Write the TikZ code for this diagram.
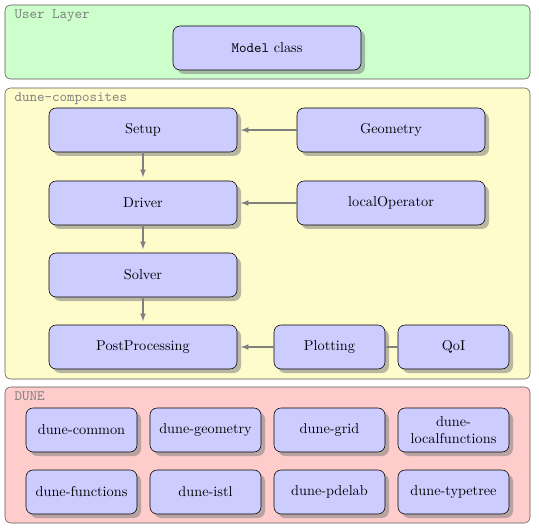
\documentclass[tikz,border=0pt]{standalone}
\usepackage{tikz}
\usetikzlibrary{arrows,shadows}
\definecolor{layergray}{rgb}{0.35,0.35,0.35}
\definecolor{modblue}{rgb}{0.8,0.8,1}
\tikzset{
  layer/.style={draw=layergray,rounded corners=4pt},
  layertitle/.style={anchor=north west,text=black!50,font=\ttfamily},
  module/.style={draw,fill=modblue,rounded corners=5pt,align=center,
    minimum height=30.8pt,
    drop shadow={shadow xshift=2.8pt,shadow yshift=-2.8pt,opacity=0.55}},
  bigmod/.style={module,minimum width=131.6pt},
  smallmod/.style={module,minimum width=77.7pt},
  flow/.style={->,draw=black!50,thick,shorten >=2.5pt},
  link/.style={draw=black!50,thick}
}

\begin{document}
\begin{tikzpicture}[>=latex,x=0.7pt,y=-0.7pt]
			\useasboundingbox (0,0) rectangle (539,530);
			% the three layers
			\draw[layer,fill=green!20] (5,5) rectangle (530,79);
			\draw[layer,fill=yellow!20] (5,88) rectangle (530,379);
			\draw[layer,fill=red!20] (5,387) rectangle (530,523);
			\node[layertitle] (userlabel) at (9.5,5) {User Layer};
			\node[layertitle] (complabel) at (9.5,88) {dune-composites};
			\node[layertitle] (dunelabel) at (9.5,387) {DUNE};
			% user layer
			\node[bigmod] (model) at (267,48) {\texttt{Model} class};
			% dune-composites
			\node[bigmod] (setup) at (143,130) {Setup};
			\node[bigmod] (geometry) at (391,130) {Geometry};
			\node[bigmod] (driver) at (143,203) {Driver};
			\node[bigmod] (localop) at (391,203) {localOperator};
			\node[bigmod] (solver) at (143,275) {Solver};
			\node[bigmod] (post) at (143,347) {PostProcessing};
			\node[smallmod] (plotting) at (329.5,347) {Plotting};
			\node[smallmod] (qoi) at (453.5,347) {QoI};
			\draw[flow] (geometry) -- (setup);
			\draw[flow] (localop) -- (driver);
			\draw[flow] (setup) -- (driver);
			\draw[flow] (driver) -- (solver);
			\draw[flow] (solver) -- (post);
			\draw[flow] (plotting) -- (post);
			\draw[link] (plotting) -- (qoi);
			% DUNE modules
			\foreach \lib/\txt/\x/\y in {common/dune-common/81.5/430,geom/dune-geometry/205.5/430,
				grid/dune-grid/329.5/430,localfun/{dune-\\localfunctions}/453.5/430,
				functions/dune-functions/81.5/492,istl/dune-istl/205.5/492,
				pdelab/dune-pdelab/329.5/492,typetree/dune-typetree/453.5/492}
			{
				\node[smallmod] (\lib) at (\x,\y) {\txt};
			}
		\end{tikzpicture}
\end{document}
